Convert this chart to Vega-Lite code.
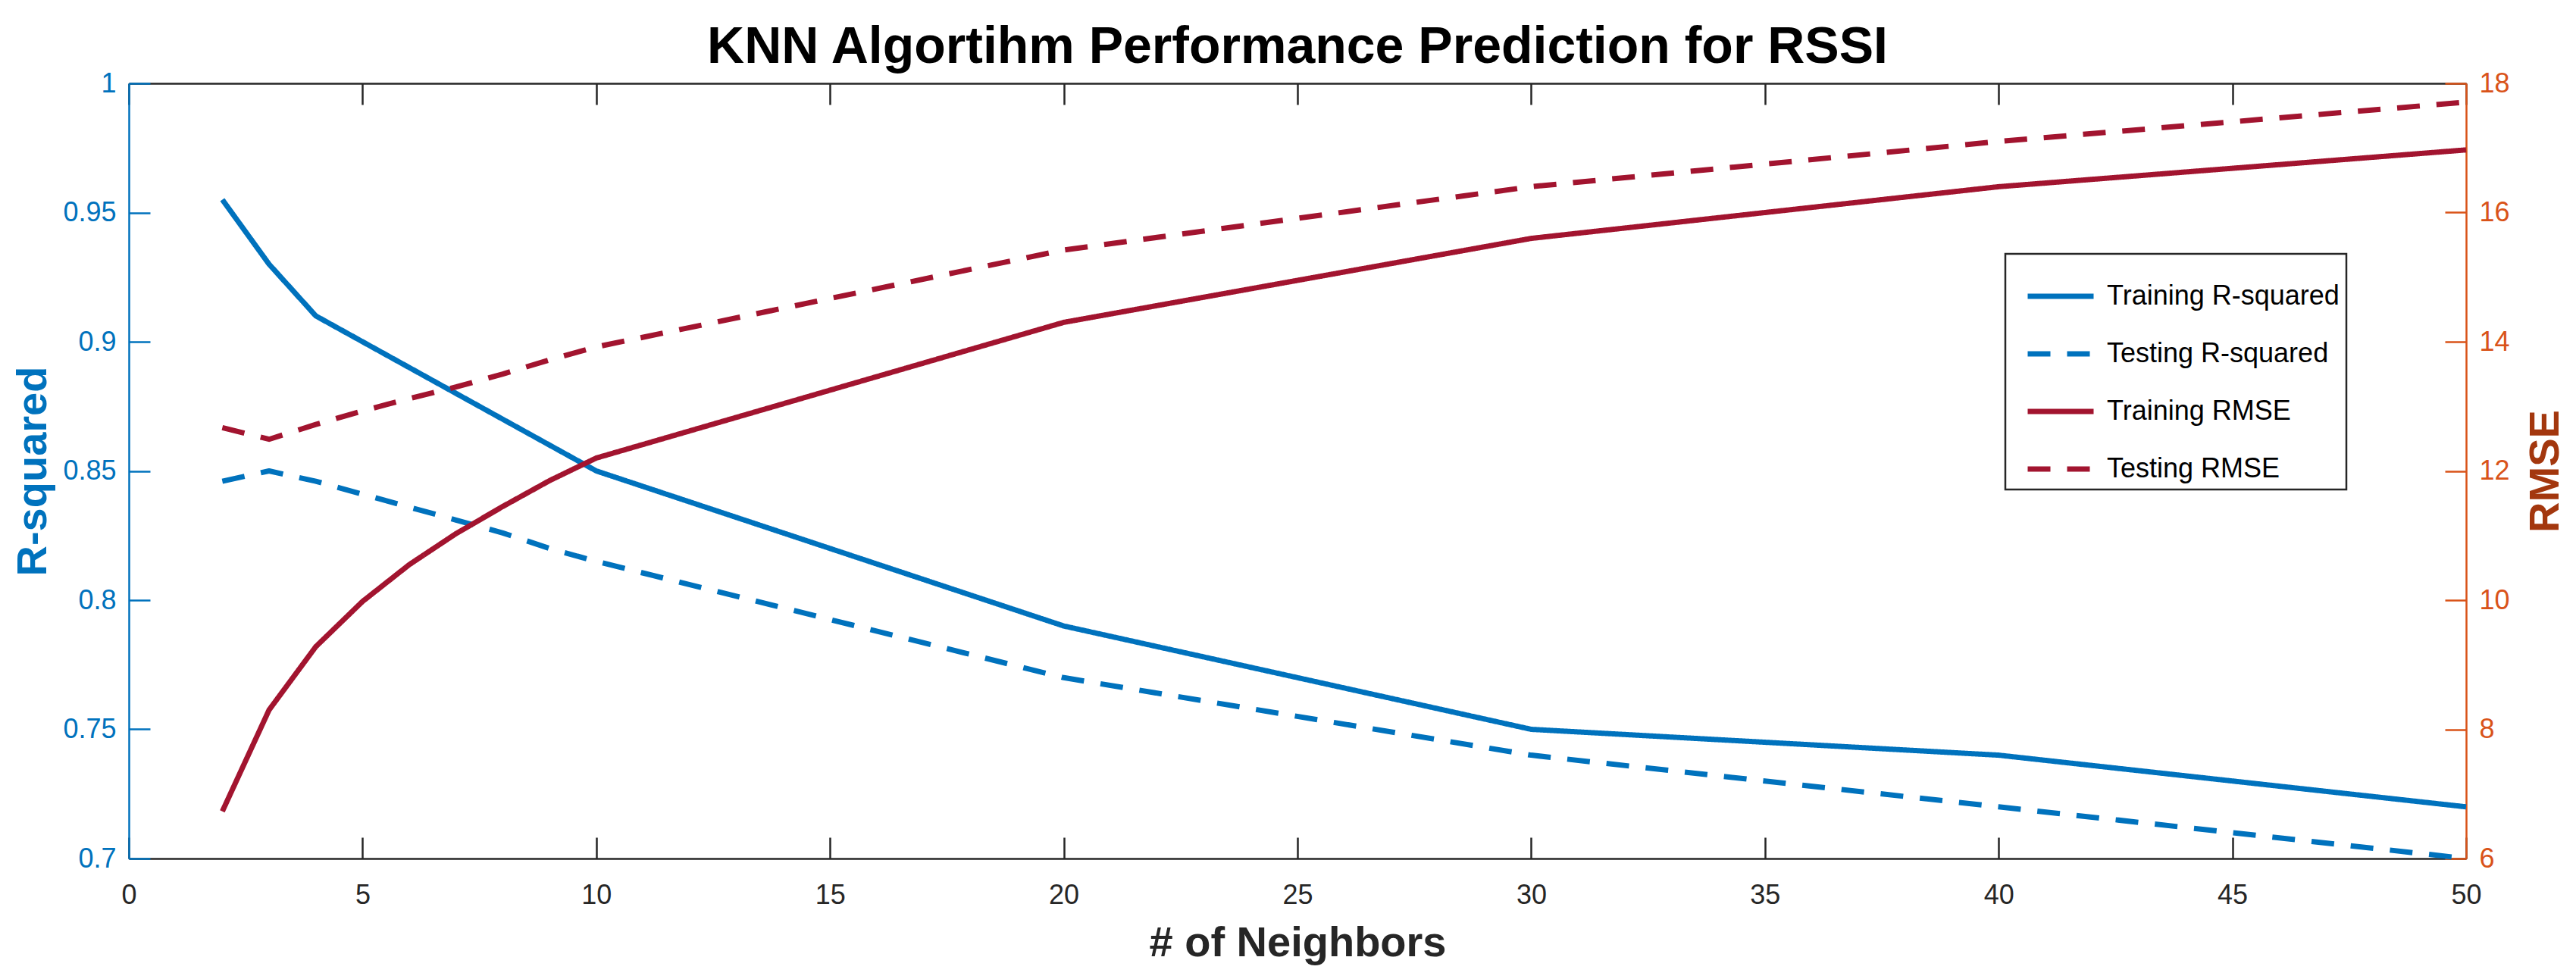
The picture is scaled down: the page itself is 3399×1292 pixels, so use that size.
{
  "$schema": "https://vega.github.io/schema/vega-lite/v6.json",
  "width": 3084,
  "height": 1023,
  "autosize": {"type": "none"},
  "padding": {"left": 170, "top": 110, "right": 145, "bottom": 159},
  "background": "white",
  "config": {
    "view": {"stroke": null},
    "font": "Liberation Sans",
    "legend": {
      "orient": "none",
      "legendX": 2476,
      "legendY": 225,
      "symbolType": "stroke",
      "symbolStrokeWidth": 7,
      "symbolSize": 7569,
      "symbolOffset": 17,
      "labelFontSize": 36,
      "labelFont": "Liberation Sans",
      "labelColor": "#000000",
      "labelOffset": 14,
      "labelLimit": 600,
      "strokeColor": "#262626",
      "strokeWidth": 2.5,
      "fillColor": "#ffffff",
      "padding": 9,
      "rowPadding": 11
    }
  },
  "title": {
    "text": "KNN Algortihm Performance Prediction for RSSI",
    "fontSize": 68,
    "fontWeight": "bold",
    "font": "Liberation Sans",
    "color": "#000000",
    "anchor": "middle",
    "baseline": "alphabetic",
    "offset": -59
  },
  "data": {
    "values": [
      {"k": 2, "series": "Training R-squared", "metric": "R2", "value": 0.955},
      {"k": 3, "series": "Training R-squared", "metric": "R2", "value": 0.930},
      {"k": 4, "series": "Training R-squared", "metric": "R2", "value": 0.910},
      {"k": 5, "series": "Training R-squared", "metric": "R2", "value": 0.900},
      {"k": 6, "series": "Training R-squared", "metric": "R2", "value": 0.890},
      {"k": 7, "series": "Training R-squared", "metric": "R2", "value": 0.880},
      {"k": 8, "series": "Training R-squared", "metric": "R2", "value": 0.870},
      {"k": 9, "series": "Training R-squared", "metric": "R2", "value": 0.860},
      {"k": 10, "series": "Training R-squared", "metric": "R2", "value": 0.850},
      {"k": 20, "series": "Training R-squared", "metric": "R2", "value": 0.790},
      {"k": 30, "series": "Training R-squared", "metric": "R2", "value": 0.750},
      {"k": 40, "series": "Training R-squared", "metric": "R2", "value": 0.740},
      {"k": 50, "series": "Training R-squared", "metric": "R2", "value": 0.720},
      {"k": 2, "series": "Testing R-squared", "metric": "R2", "value": 0.846},
      {"k": 3, "series": "Testing R-squared", "metric": "R2", "value": 0.850},
      {"k": 4, "series": "Testing R-squared", "metric": "R2", "value": 0.846},
      {"k": 5, "series": "Testing R-squared", "metric": "R2", "value": 0.841},
      {"k": 6, "series": "Testing R-squared", "metric": "R2", "value": 0.836},
      {"k": 7, "series": "Testing R-squared", "metric": "R2", "value": 0.831},
      {"k": 8, "series": "Testing R-squared", "metric": "R2", "value": 0.826},
      {"k": 9, "series": "Testing R-squared", "metric": "R2", "value": 0.820},
      {"k": 10, "series": "Testing R-squared", "metric": "R2", "value": 0.815},
      {"k": 20, "series": "Testing R-squared", "metric": "R2", "value": 0.770},
      {"k": 30, "series": "Testing R-squared", "metric": "R2", "value": 0.740},
      {"k": 40, "series": "Testing R-squared", "metric": "R2", "value": 0.720},
      {"k": 50, "series": "Testing R-squared", "metric": "R2", "value": 0.700},
      {"k": 2, "series": "Training RMSE", "metric": "RMSE", "value": 6.73},
      {"k": 3, "series": "Training RMSE", "metric": "RMSE", "value": 8.30},
      {"k": 4, "series": "Training RMSE", "metric": "RMSE", "value": 9.28},
      {"k": 5, "series": "Training RMSE", "metric": "RMSE", "value": 9.98},
      {"k": 6, "series": "Training RMSE", "metric": "RMSE", "value": 10.55},
      {"k": 7, "series": "Training RMSE", "metric": "RMSE", "value": 11.03},
      {"k": 8, "series": "Training RMSE", "metric": "RMSE", "value": 11.45},
      {"k": 9, "series": "Training RMSE", "metric": "RMSE", "value": 11.85},
      {"k": 10, "series": "Training RMSE", "metric": "RMSE", "value": 12.20},
      {"k": 20, "series": "Training RMSE", "metric": "RMSE", "value": 14.30},
      {"k": 30, "series": "Training RMSE", "metric": "RMSE", "value": 15.60},
      {"k": 40, "series": "Training RMSE", "metric": "RMSE", "value": 16.40},
      {"k": 50, "series": "Training RMSE", "metric": "RMSE", "value": 16.97},
      {"k": 2, "series": "Testing RMSE", "metric": "RMSE", "value": 12.67},
      {"k": 3, "series": "Testing RMSE", "metric": "RMSE", "value": 12.49},
      {"k": 4, "series": "Testing RMSE", "metric": "RMSE", "value": 12.72},
      {"k": 5, "series": "Testing RMSE", "metric": "RMSE", "value": 12.93},
      {"k": 6, "series": "Testing RMSE", "metric": "RMSE", "value": 13.12},
      {"k": 7, "series": "Testing RMSE", "metric": "RMSE", "value": 13.30},
      {"k": 8, "series": "Testing RMSE", "metric": "RMSE", "value": 13.50},
      {"k": 9, "series": "Testing RMSE", "metric": "RMSE", "value": 13.72},
      {"k": 10, "series": "Testing RMSE", "metric": "RMSE", "value": 13.92},
      {"k": 20, "series": "Testing RMSE", "metric": "RMSE", "value": 15.42},
      {"k": 30, "series": "Testing RMSE", "metric": "RMSE", "value": 16.40},
      {"k": 40, "series": "Testing RMSE", "metric": "RMSE", "value": 17.10},
      {"k": 50, "series": "Testing RMSE", "metric": "RMSE", "value": 17.71}
    ]
  },
  "layer": [
    {
      "transform": [{"filter": "datum.metric === 'R2'"}],
      "mark": {"type": "line", "strokeWidth": 7, "strokeJoin": "round", "clip": false},
      "encoding": {
        "x": {
          "field": "k",
          "type": "quantitative",
          "scale": {"domain": [0, 50], "nice": false, "zero": false},
          "axis": {
            "orient": "bottom",
            "values": [0, 5, 10, 15, 20, 25, 30, 35, 40, 45, 50],
            "format": "d",
            "grid": false,
            "labelFlush": false,
            "labelFontSize": 36,
            "labelColor": "#262626",
            "labelPadding": 59,
            "tickSize": -28,
            "tickWidth": 2.5,
            "tickColor": "#262626",
            "domainColor": "#262626",
            "domainWidth": 2.5,
            "title": "# of Neighbors",
            "titleFontSize": 56,
            "titleFontWeight": "bold",
            "titleColor": "#262626",
            "titlePadding": 18
          }
        },
        "y": {
          "field": "value",
          "type": "quantitative",
          "scale": {"domain": [0.7, 1], "nice": false, "zero": false},
          "axis": {
            "orient": "left",
            "values": [0.7, 0.75, 0.8, 0.85, 0.9, 0.95, 1],
            "format": ".2~f",
            "grid": false,
            "labelFlush": false,
            "labelFontSize": 36,
            "labelColor": "#0072BD",
            "labelPadding": 45,
            "tickSize": -28,
            "tickWidth": 2.5,
            "tickColor": "#0072BD",
            "domainColor": "#0072BD",
            "domainWidth": 2.5,
            "title": "R-squared",
            "titleFontSize": 56,
            "titleFontWeight": "bold",
            "titleColor": "#0072BD",
            "titlePadding": 10
          }
        },
        "color": {
          "field": "series",
          "type": "nominal",
          "title": null,
          "scale": {
            "domain": ["Training R-squared", "Testing R-squared", "Training RMSE", "Testing RMSE"],
            "range": ["#0072BD", "#0072BD", "#A2142F", "#A2142F"]
          }
        },
        "strokeDash": {
          "field": "series",
          "type": "nominal",
          "title": null,
          "scale": {
            "domain": ["Training R-squared", "Testing R-squared", "Training RMSE", "Testing RMSE"],
            "range": [[1, 0], [30, 22], [1, 0], [30, 22]]
          }
        }
      }
    },
    {
      "transform": [{"filter": "datum.metric === 'RMSE'"}],
      "mark": {"type": "line", "strokeWidth": 7, "strokeJoin": "round", "clip": false},
      "encoding": {
        "x": {
          "field": "k",
          "type": "quantitative",
          "scale": {"domain": [0, 50], "nice": false, "zero": false},
          "axis": {
            "orient": "top",
            "values": [0, 5, 10, 15, 20, 25, 30, 35, 40, 45, 50],
            "labels": false,
            "grid": false,
            "tickSize": -28,
            "tickWidth": 2.5,
            "tickColor": "#262626",
            "domainColor": "#262626",
            "domainWidth": 2.5,
            "title": null
          }
        },
        "y": {
          "field": "value",
          "type": "quantitative",
          "scale": {"domain": [6, 18], "nice": false, "zero": false},
          "axis": {
            "orient": "right",
            "values": [6, 8, 10, 12, 14, 16, 18],
            "format": "d",
            "grid": false,
            "labelFlush": false,
            "labelFontSize": 36,
            "labelColor": "#D95319",
            "labelPadding": 45,
            "tickSize": -28,
            "tickWidth": 2.5,
            "tickColor": "#D95319",
            "domainColor": "#D95319",
            "domainWidth": 2.5,
            "title": "RMSE",
            "titleAngle": 270,
            "titleFontSize": 56,
            "titleFontWeight": "bold",
            "titleColor": "#A3370E",
            "titlePadding": 76
          }
        },
        "color": {
          "field": "series",
          "type": "nominal",
          "title": null,
          "scale": {
            "domain": ["Training R-squared", "Testing R-squared", "Training RMSE", "Testing RMSE"],
            "range": ["#0072BD", "#0072BD", "#A2142F", "#A2142F"]
          }
        },
        "strokeDash": {
          "field": "series",
          "type": "nominal",
          "title": null,
          "scale": {
            "domain": ["Training R-squared", "Testing R-squared", "Training RMSE", "Testing RMSE"],
            "range": [[1, 0], [30, 22], [1, 0], [30, 22]]
          }
        }
      }
    }
  ],
  "resolve": {
    "scale": {"y": "independent"},
    "axis": {"x": "independent", "y": "independent"}
  }
}
